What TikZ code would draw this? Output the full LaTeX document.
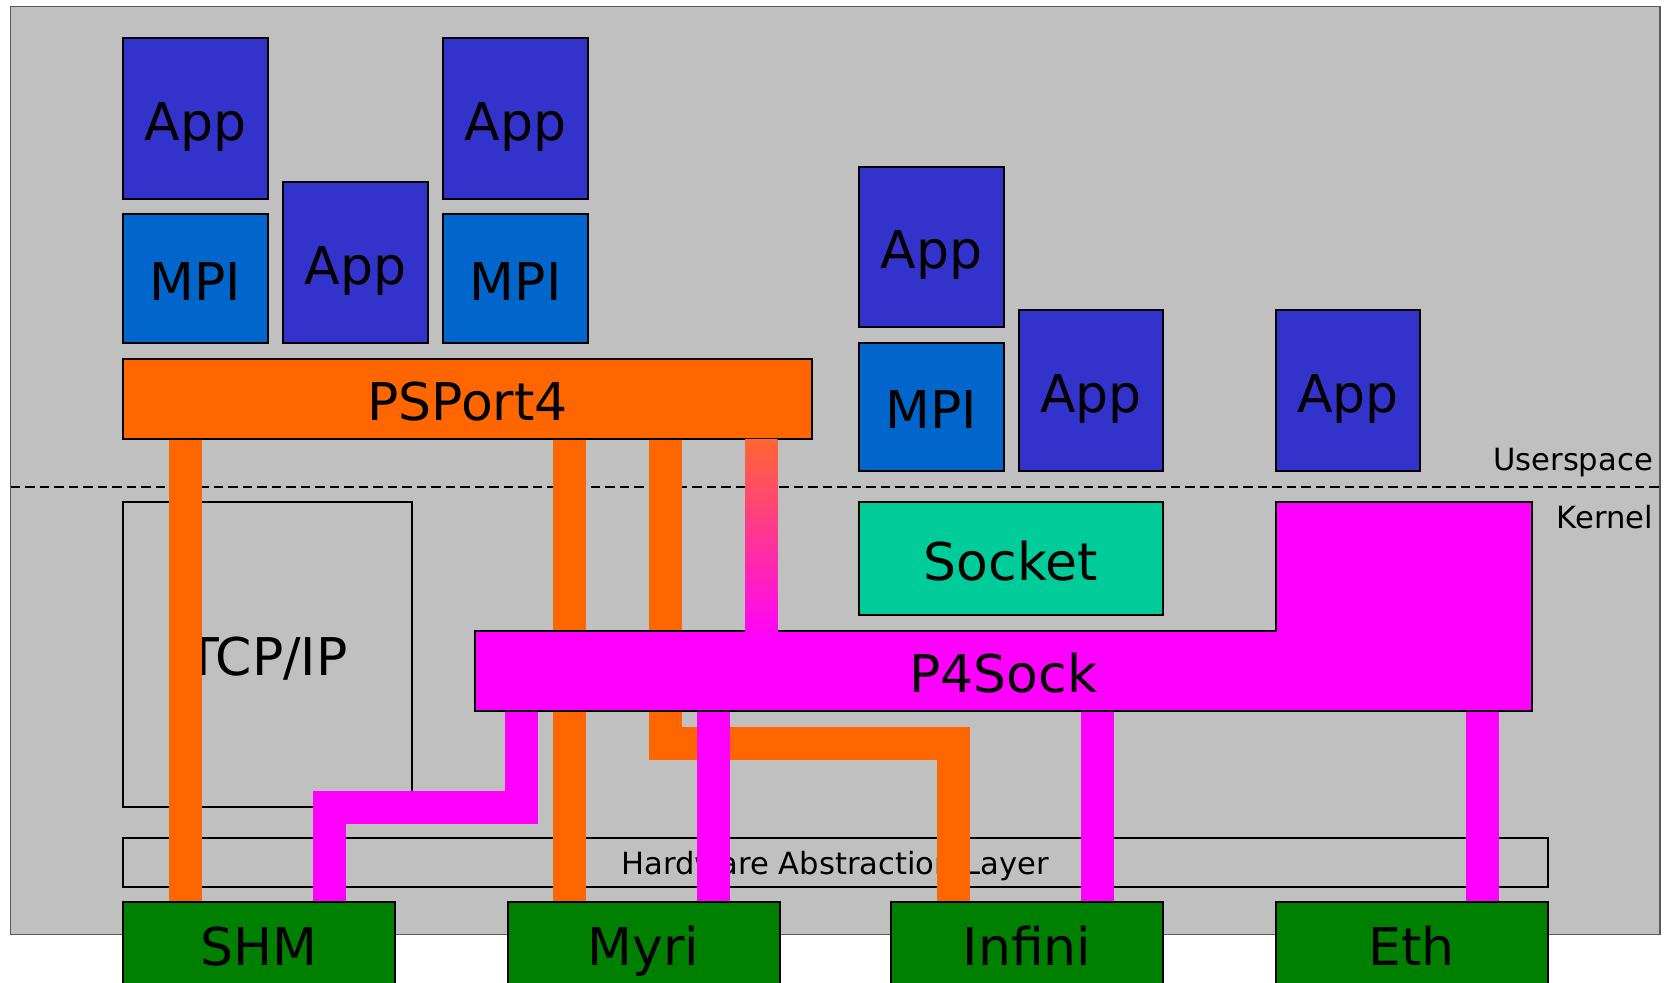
\documentclass[tikz,border=0pt]{standalone}
\usepackage{fontspec}
\setmainfont{DejaVu Sans}
\newfontfamily\dvs{DejaVu Sans}
\definecolor{bggray}{RGB}{192,192,192}
\definecolor{appblue}{RGB}{51,51,204}
\definecolor{mpiblue}{RGB}{0,102,204}
\definecolor{porange}{RGB}{255,102,0}
\definecolor{sockgreen}{RGB}{0,204,153}
\definecolor{pmag}{RGB}{255,0,255}
\definecolor{hwgreen}{RGB}{0,128,0}
\definecolor{gradtop}{RGB}{255,102,51}
\definecolor{bgline}{RGB}{90,90,90}
\begin{document}
\begin{tikzpicture}[x=1pt,y=-1pt,
  box/.style={draw=black, line width=2pt, inner sep=0pt,
    font=\dvs\fontsize{52}{52}\selectfont, text height=43pt, text depth=0pt},
  appbox/.style={box, fill=appblue, minimum width=144.7pt, minimum height=160.7pt},
  mpibox/.style={box, fill=mpiblue, minimum width=144.7pt, minimum height=128.4pt},
  hwbox/.style={box, fill=hwgreen, minimum width=272pt, minimum height=86pt, text height=40pt},
  smalltxt/.style={inner sep=0pt, font=\dvs\fontsize{30.6}{30.6}\selectfont},
  obar/.style={draw=porange, line width=33pt, line cap=butt, line join=miter},
  mbar/.style={draw=pmag, line width=33pt, line cap=butt, line join=miter}
]
\useasboundingbox (0,0) rectangle (1669,982);

% background
\node[draw=bgline, line width=1.2pt, fill=bggray, inner sep=0pt,
      minimum width=1649.3pt, minimum height=928pt] (bg) at (835.35,470.7) {};
\coordinate (dl) at (10.7,486.7);
\coordinate (dr) at (1660,486.7);
\draw[black, line width=2pt, dash pattern=on 9.5pt off 5pt] (dl) -- (dr);

% userspace boxes
\node[appbox] (app1) at (195.35,118.65) {App};
\node[mpibox] (mpi1) at (195.35,278.5) {MPI};
\node[appbox, minimum height=160.4pt] (app2) at (355.35,262.5) {App};
\node[appbox] (app3) at (515.65,118.65) {App};
\node[mpibox] (mpi2) at (515.65,278.5) {MPI};
\node[box, fill=porange, minimum width=688.7pt, minimum height=80pt] (psport) at (467.35,398.7) {PSPort4};

\node[appbox] (app4) at (931.35,247.05) {App};
\node[mpibox] (mpi3) at (931.35,406.85) {MPI};
\node[appbox] (app5) at (1090.95,390.65) {App};
\node[appbox] (app6) at (1347.85,390.65) {App};

% kernel boxes
\node[box, fill=sockgreen, minimum width=303.7pt, minimum height=113pt] (socket) at (1010.85,558.5) {Socket};
\node[box, minimum width=288.7pt, minimum height=304.7pt] (tcpip) at (267.35,654.35) {TCP/IP};
\node[box, minimum width=1424.6pt, minimum height=48.4pt, font=\dvs\fontsize{30.6}{30.6}\selectfont, text height=24pt] (hal) at (835.3,862.5) {Hardware Abstraction Layer};

% orange PSPort4 paths
\draw[obar] (185.25,0 |- psport.south) -- (185.25,902);
\draw[obar] (569.4,0 |- psport.south) -- (569.4,902);
\coordinate (o3a) at (665.5,743.5);
\coordinate (o3b) at (953.5,743.5);
\draw[obar] (665.5,0 |- psport.south) -- (o3a) -- (o3b) -- (953.5,902);

% P4Sock
\node[box, fill=pmag, minimum width=256.5pt, minimum height=129pt] (mag) at (1403.75,566.5) {};
\node[box, fill=pmag, minimum width=1057pt, minimum height=80pt] (p4sock) at (1003.5,670.7) {P4Sock};
\fill[pmag] (1276.8,618) rectangle (1530.8,709.5);

% gradient bar
\shade[top color=gradtop, bottom color=pmag] (745,0 |- psport.south) rectangle (777.7,642);

% magenta P4Sock paths
\coordinate (m1a) at (521.5,807.5);
\coordinate (m1b) at (329.5,807.5);
\draw[mbar] (521.5,0 |- p4sock.south) -- (m1a) -- (m1b) -- (329.5,902);
\draw[mbar] (713.5,0 |- p4sock.south) -- (713.5,902);
\draw[mbar] (1097.5,0 |- p4sock.south) -- (1097.5,902);
\draw[mbar] (1482.5,0 |- p4sock.south) -- (1482.5,902);

% hardware
\node[hwbox] (shm) at (259.25,945) {SHM};
\node[hwbox] (myri) at (643.5,945) {Myri};
\node[hwbox] (infini) at (1027,945) {Infini};
\node[hwbox] (eth) at (1411.6,945) {Eth};

% layer labels
\node[smalltxt, anchor=base east] (user) at (1653,470.7) {Userspace};
\node[smalltxt, anchor=base east] (kern) at (1653,528) {Kernel};
\end{tikzpicture}
\end{document}
